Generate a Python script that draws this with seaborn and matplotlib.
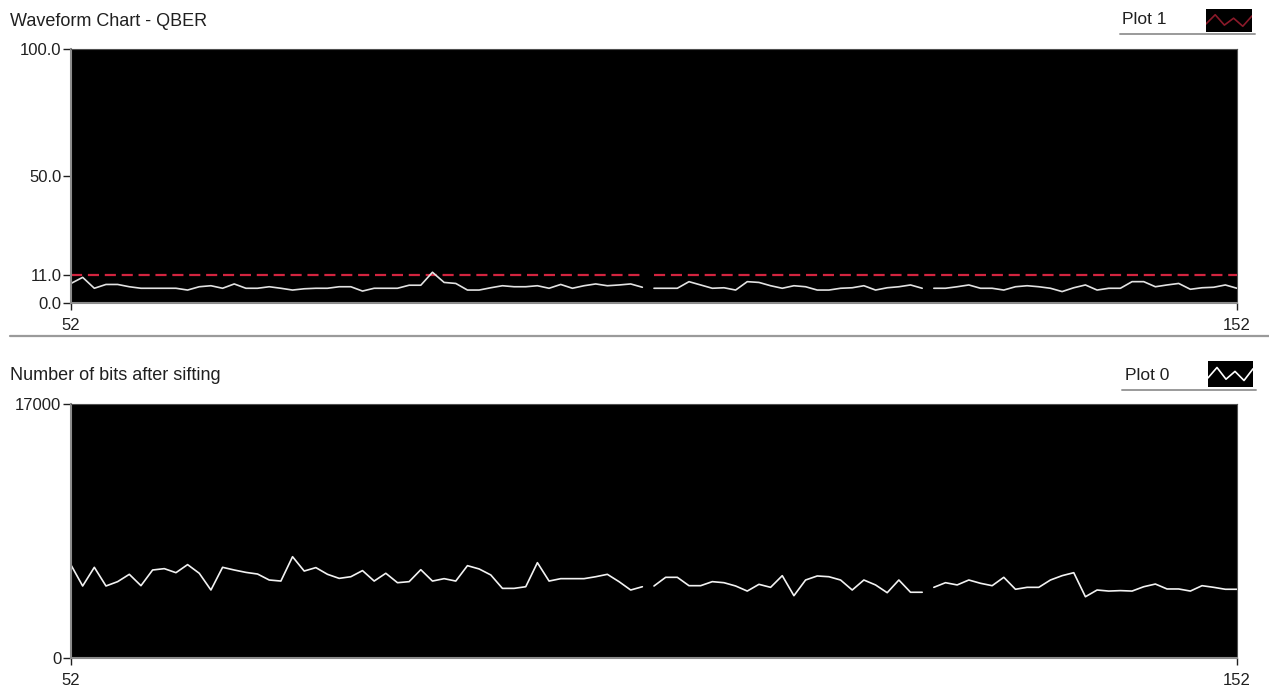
import numpy as np
import pandas as pd
import matplotlib
matplotlib.use("Agg")
import matplotlib.pyplot as plt
from matplotlib.lines import Line2D
import seaborn as sns

# ---- data -------------------------------------------------------------
x_start, x_end = 52, 152
samples = np.arange(x_start, x_end + 1)

qber = [
    7.7, 10.1, 5.8, 7.3, 7.3, 6.4, 5.8, 5.8, 5.8, 5.8,
    5.1, 6.4, 6.8, 5.8, 7.5, 5.8, 5.8, 6.4, 5.8, 5.1,
    5.6, 5.8, 5.8, 6.4, 6.4, 4.7, 5.8, 5.8, 5.8, 7.0,
    7.0, 12.1, 8.1, 7.7, 5.1, 5.1, 6.0, 6.8, 6.4, 6.4,
    6.8, 5.8, 7.3, 5.8, 6.8, 7.5, 6.8, 7.1, 7.5, 6.2,
    5.8, 5.8, 5.8, 8.4, 7.1, 5.8, 6.0, 5.1, 8.4, 8.1,
    6.8, 5.8, 6.8, 6.4, 5.1, 5.1, 5.8, 6.0, 6.8, 5.1,
    6.0, 6.4, 7.1, 5.8, 5.8, 5.8, 6.4, 7.1, 5.8, 5.8,
    5.1, 6.4, 6.8, 6.4, 5.8, 4.5, 6.0, 7.1, 5.1, 5.8,
    5.8, 8.4, 8.4, 6.4, 7.1, 7.7, 5.4, 6.0, 6.2, 7.1,
    5.8,
]

bits = [
    6225, 4820, 6070, 4820, 5110, 5600, 4840, 5890, 5980, 5710,
    6250, 5670, 4550, 6070, 5890, 5730, 5620, 5220, 5150, 6780,
    5820, 6050, 5600, 5330, 5440, 5850, 5150, 5670, 5040, 5110,
    5910, 5150, 5310, 5150, 6180, 5960, 5560, 4660, 4660, 4770,
    6380, 5150, 5310, 5310, 5310, 5440, 5600, 5110, 4550, 4770,
    4820, 5400, 5400, 4840, 4840, 5110, 5040, 4820, 4480, 4930,
    4730, 5510, 4170, 5220, 5490, 5440, 5220, 4550, 5220, 4890,
    4370, 5220, 4400, 4400, 4730, 5040, 4890, 5220, 5000, 4840,
    5400, 4600, 4730, 4730, 5220, 5510, 5710, 4100, 4550, 4480,
    4510, 4480, 4770, 4950, 4620, 4620, 4480, 4840, 4730, 4600,
    4600,
]

# samples where a trace restarts (a break in the drawn history)
segment_starts = [52, 102, 126]
threshold_segment_starts = [52, 102]

qber_threshold = 11.0
qber_ticks = [0.0, 11.0, 50.0, 100.0]
qber_range = (0.0, 100.0)
bits_ticks = [0, 17000]
bits_range = (0, 17000)
x_ticks = [x_start, x_end]

top_title = "Waveform Chart - QBER"
bottom_title = "Number of bits after sifting"
top_plot_name = "Plot 1"
bottom_plot_name = "Plot 0"

# small zigzag used for the plot-name icons
icon_zigzag = [0.35, 0.75, 0.3, 0.6, 0.25, 0.7]

df = pd.DataFrame({"sample": samples, "qber": qber, "bits": bits})
df["threshold"] = qber_threshold
df["segment"] = np.searchsorted(segment_starts, df["sample"], side="right") - 1
df["threshold_segment"] = np.searchsorted(threshold_segment_starts, df["sample"], side="right") - 1

# ---- figure -----------------------------------------------------------
sns.set_style("white")
plt.rcParams["font.family"] = ["Liberation Sans", "DejaVu Sans"]

W, H = 1269, 688
fig = plt.figure(figsize=(W / 100, H / 100), dpi=100)
fig.patch.set_facecolor("white")


def fx(px):
    return px / W


def fy(py):
    return 1 - py / H


ax1 = fig.add_axes([fx(71), fy(303), fx(1237 - 71), (303 - 49) / H])
ax2 = fig.add_axes([fx(71), fy(658), fx(1237 - 71), (658 - 404) / H])

sns.lineplot(data=df, x="sample", y="threshold", units="threshold_segment",
             estimator=None, color="#d2243f", linewidth=1.6,
             linestyle=(0, (5, 2.6)), ax=ax1, legend=False)
sns.lineplot(data=df, x="sample", y="qber", units="segment", estimator=None,
             color="#e2e2e2", linewidth=1.2, ax=ax1, legend=False)

sns.lineplot(data=df, x="sample", y="bits", units="segment", estimator=None,
             color="#f2f2f2", linewidth=1.2, ax=ax2, legend=False)


def style_axes(ax, ylim, yticks, fmt):
    ax.set_facecolor("black")
    ax.set_xlim(x_start, x_end)
    ax.set_ylim(*ylim)
    ax.set_xticks(x_ticks)
    ax.set_xticklabels([str(t) for t in x_ticks])
    ax.set_yticks(yticks)
    ax.set_yticklabels([fmt.format(t) for t in yticks])
    ax.set_xlabel("")
    ax.set_ylabel("")
    ax.tick_params(axis="y", length=6, width=1, pad=1, labelsize=12,
                   colors="#202020", direction="out", left=True)
    ax.tick_params(axis="x", length=5, width=1, pad=6, labelsize=12,
                   colors="#202020", direction="out", bottom=True)
    for side in ("left", "bottom"):
        ax.spines[side].set_color("#8c8c8c")
        ax.spines[side].set_linewidth(1.5)
    for side in ("top", "right"):
        ax.spines[side].set_color("#505050")
        ax.spines[side].set_linewidth(0.8)


style_axes(ax1, qber_range, qber_ticks, "{:.1f}")
style_axes(ax2, bits_range, bits_ticks, "{:d}")

# ---- titles, plot names and separators --------------------------------
fig.text(fx(10), fy(22), top_title, fontsize=13, color="#202020", va="center")
fig.text(fx(10), fy(375), bottom_title, fontsize=13, color="#202020", va="center")
fig.text(fx(1122), fy(20), top_plot_name, fontsize=12.5, color="#202020", va="center")
fig.text(fx(1125), fy(375), bottom_plot_name, fontsize=12.5, color="#202020", va="center")

for (x0, x1, yy, lw) in [(10, W, 336, 1.6), (1120, 1255, 34, 1.4), (1122, 1256, 390, 1.4)]:
    fig.add_artist(Line2D([fx(x0), fx(x1)], [fy(yy), fy(yy)], color="#9a9a9a",
                          linewidth=lw, transform=fig.transFigure))


def plot_icon(rect, color):
    ia = fig.add_axes(rect)
    ia.set_facecolor("black")
    ia.plot(np.linspace(0, 1, len(icon_zigzag)), icon_zigzag, color=color, linewidth=1.2)
    ia.set_xlim(0, 1)
    ia.set_ylim(0, 1)
    ia.set_xticks([])
    ia.set_yticks([])
    for s in ia.spines.values():
        s.set_visible(False)


plot_icon([fx(1206), fy(32), fx(46), 23 / H], "#8a1a2a")
plot_icon([fx(1208), fy(387), fx(45), 26 / H], "#ffffff")

fig.savefig("out.png", dpi=100, facecolor="white")
